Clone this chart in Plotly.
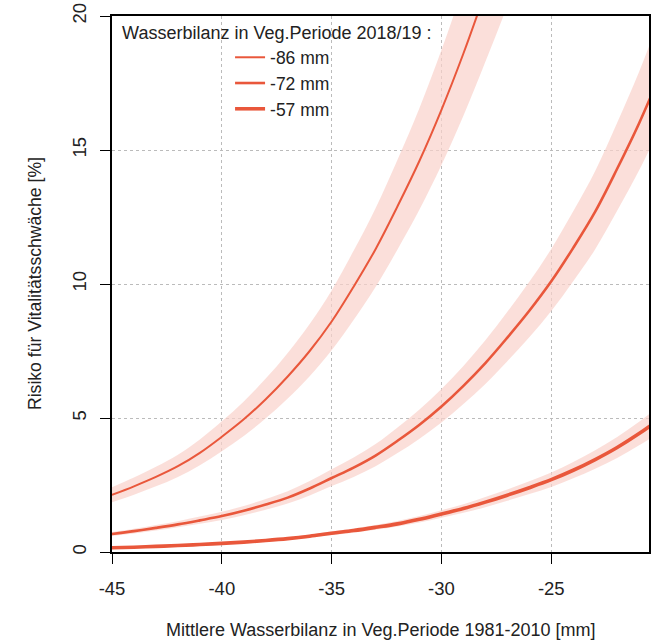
import plotly.graph_objects as go

x_vals = [-45, -44, -43, -42, -41, -40, -39, -38, -37, -36, -35, -34, -33, -32, -31,
          -30, -29, -28, -27, -26, -25, -24, -23, -22, -21, -20]

# -86 mm
risk_86 = [2.13, 2.45, 2.8, 3.2, 3.7, 4.3, 4.95, 5.7, 6.55, 7.5, 8.6, 9.9, 11.3, 12.9, 14.6,
           16.5, 18.6, 20.9, 23.3, 26.0]
low_86 = [1.86, 2.14, 2.45, 2.80, 3.24, 3.76, 4.33, 4.99, 5.73, 6.56, 7.53, 8.66, 9.89, 11.29,
          12.78, 14.44, 16.28, 18.29, 20.39, 22.75]
up_86 = [2.42, 2.78, 3.18, 3.63, 4.20, 4.88, 5.62, 6.47, 7.43, 8.51, 9.76, 11.24, 12.83, 14.64,
         16.57, 18.73, 21.11, 23.72, 26.45, 29.5]

# -72 mm
risk_72 = [0.67, 0.78, 0.9, 1.03, 1.18, 1.34, 1.54, 1.77, 2.03, 2.37, 2.76, 3.15, 3.6, 4.15, 4.75,
           5.43, 6.2, 7.05, 8.0, 9.0, 10.1, 11.35, 12.7, 14.3, 16.0, 17.9]
low_72 = [0.60, 0.69, 0.80, 0.92, 1.05, 1.19, 1.37, 1.58, 1.81, 2.11, 2.46, 2.80, 3.20, 3.69, 4.23,
          4.83, 5.52, 6.27, 7.12, 8.01, 8.99, 10.10, 11.30, 12.73, 14.24, 15.93]
up_72 = [0.75, 0.87, 1.01, 1.15, 1.32, 1.50, 1.72, 1.98, 2.27, 2.65, 3.09, 3.53, 4.03, 4.65, 5.32,
         6.08, 6.94, 7.90, 8.96, 10.08, 11.31, 12.71, 14.22, 16.02, 17.92, 20.05]

# -57 mm
risk_57 = [0.16, 0.18, 0.21, 0.24, 0.28, 0.32, 0.37, 0.43, 0.50, 0.59, 0.70, 0.80, 0.92, 1.05, 1.22,
           1.42, 1.62, 1.86, 2.12, 2.40, 2.70, 3.05, 3.45, 3.9, 4.42, 5.0]
low_57 = [0.14, 0.16, 0.19, 0.22, 0.25, 0.29, 0.33, 0.39, 0.45, 0.53, 0.63, 0.72, 0.83, 0.95, 1.10,
          1.28, 1.46, 1.67, 1.91, 2.16, 2.43, 2.75, 3.11, 3.51, 3.98, 4.50]
up_57 = [0.18, 0.20, 0.23, 0.26, 0.31, 0.35, 0.41, 0.47, 0.55, 0.65, 0.77, 0.88, 1.01, 1.16, 1.34,
         1.56, 1.78, 2.05, 2.33, 2.64, 2.97, 3.36, 3.80, 4.29, 4.86, 5.50]

series = [
    ("-86 mm", risk_86, low_86, up_86, 2.0),
    ("-72 mm", risk_72, low_72, up_72, 2.6),
    ("-57 mm", risk_57, low_57, up_57, 3.6),
]

x_ticks = [-45, -40, -35, -30, -25]
y_ticks = [0, 5, 10, 15, 20]

LINE = "#E9573B"
BAND = "rgba(250,210,202,0.7)"
FONT = "Liberation Sans, Arial, sans-serif"

fig = go.Figure()

for name, v, lo, up, w in series:
    n = len(v)
    xs = x_vals[:n]
    fig.add_trace(go.Scatter(x=xs, y=lo, mode="lines", line=dict(width=0, color=BAND, shape="spline"),
                             showlegend=False, hoverinfo="skip"))
    fig.add_trace(go.Scatter(x=xs, y=up, mode="lines", line=dict(width=0, color=BAND, shape="spline"),
                             fill="tonexty", fillcolor=BAND, showlegend=False, hoverinfo="skip"))

for name, v, lo, up, w in series:
    n = len(v)
    fig.add_trace(go.Scatter(x=x_vals[:n], y=v, mode="lines", name=name,
                             line=dict(color=LINE, width=w, shape="spline")))

fig.update_layout(
    width=666, height=640,
    margin=dict(l=112, r=17, t=16, b=88),
    paper_bgcolor="white", plot_bgcolor="white",
    font=dict(family=FONT, size=18.5, color="#222222"),
    showlegend=True,
    legend=dict(
        x=0.015, y=1.0, xanchor="left", yanchor="top",
        bgcolor="rgba(0,0,0,0)",
        traceorder="normal",
        title=dict(text="Wasserbilanz in Veg.Periode 2018/19 :", font=dict(size=18)),
        indentation=110,
        font=dict(size=17.5),
        tracegroupgap=0,
    ),
    xaxis=dict(
        range=[-45, -20.55], tickvals=x_ticks, ticktext=[str(t) for t in x_ticks],
        ticks="outside", ticklen=10, tickwidth=1.3, tickcolor="black",
        showline=True, linecolor="black", linewidth=1.5, mirror=True,
        showgrid=True, gridcolor="#BBBBBB", griddash="dot", gridwidth=1,
        zeroline=False, ticklabelstandoff=9, automargin=False,
        ticklabeloverflow="allow",
    ),
    yaxis=dict(
        range=[0, 20], tickvals=y_ticks, ticktext=[str(t) for t in y_ticks],
        ticks="outside", ticklen=10, tickwidth=1.3, tickcolor="black", tickangle=-90,
        showline=True, linecolor="black", linewidth=1.5, mirror=True,
        showgrid=True, gridcolor="#BBBBBB", griddash="dot", gridwidth=1,
        zeroline=False, ticklabelstandoff=7, automargin=False,
        ticklabeloverflow="allow",
    ),
    annotations=[
        dict(text="Mittlere Wasserbilanz in Veg.Periode 1981-2010 [mm]",
             xref="paper", yref="paper", x=0.5, y=0, yshift=-78,
             xanchor="center", yanchor="middle", showarrow=False, font=dict(size=18)),
        dict(text="Risiko für Vitalitätsschwäche [%]", textangle=-90,
             xref="paper", yref="paper", x=0, y=0.5, xshift=-77,
             xanchor="center", yanchor="middle", showarrow=False, font=dict(size=17.6)),
    ],
)

# remove the default page margin so the 666x640 figure fills the window
fig.write_html("out.html", config={"displayModeBar": False},
               post_script="document.body.style.margin='0';")
